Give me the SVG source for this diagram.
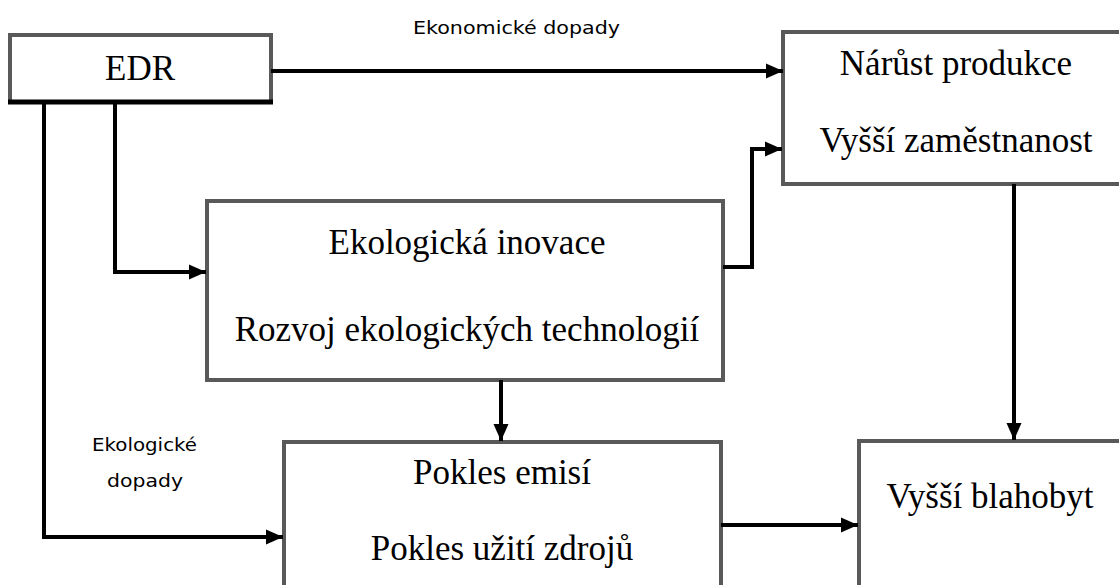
<svg xmlns="http://www.w3.org/2000/svg" width="1119" height="585" viewBox="0 0 1119 585">
<style>
.box{fill:#fff;stroke:#595959;stroke-width:4}
.t{font-family:"Liberation Serif","Times New Roman",serif;font-size:35px;fill:#000;text-anchor:middle}
.lbl{font-family:"DejaVu Sans","Liberation Sans",sans-serif;font-size:18px;fill:#000}
.c{fill:none;stroke:#000;stroke-width:4;marker-end:url(#ah)}
</style>
<defs>
<marker id="ah" markerUnits="userSpaceOnUse" markerWidth="18" markerHeight="18" viewBox="0 0 18 18" refX="17" refY="9" orient="auto">
<path d="M0,1.5 L17,9 L0,16.5 Z" fill="#000"/>
</marker>
</defs>
<g id="edr">
<rect class="box" x="10" y="35" width="261" height="67"/>
<line x1="8" y1="102" x2="273" y2="102" stroke="#000" stroke-width="5"/>
<text class="t" x="140" y="80">EDR</text>
</g>
<g id="narust">
<rect class="box" x="783" y="32" width="345" height="152"/>
<text class="t" x="956" y="75">Nárůst produkce</text>
<text class="t" x="956" y="152">Vyšší zaměstnanost</text>
</g>
<g id="eko">
<rect class="box" x="207" y="201" width="516" height="179"/>
<text class="t" x="467" y="254">Ekologická inovace</text>
<text class="t" x="467" y="341">Rozvoj ekologických technologií</text>
</g>
<g id="pokles">
<rect class="box" x="284" y="442" width="437" height="160"/>
<text class="t" x="502" y="484">Pokles emisí</text>
<text class="t" x="502" y="560">Pokles užití zdrojů</text>
</g>
<g id="blahobyt">
<rect class="box" x="859" y="441" width="270" height="160"/>
<text class="t" x="990" y="508">Vyšší blahobyt</text>
</g>
<g id="connectors">
<path class="c" d="M271,71 H783"/>
<path class="c" d="M115,102 V272 H206"/>
<path class="c" d="M44,102 V537 H283"/>
<path class="c" d="M723,267 H752 V149 H782"/>
<path class="c" d="M501,380 V441"/>
<path class="c" d="M721,525 H858"/>
<path class="c" d="M1014,184 V440"/>
<text class="lbl" x="413" y="34" textLength="207" lengthAdjust="spacingAndGlyphs">Ekonomické dopady</text>
<text class="lbl" x="92" y="451" textLength="105" lengthAdjust="spacingAndGlyphs">Ekologické</text>
<text class="lbl" x="107" y="487" textLength="76" lengthAdjust="spacingAndGlyphs">dopady</text>
</g>
</svg>
